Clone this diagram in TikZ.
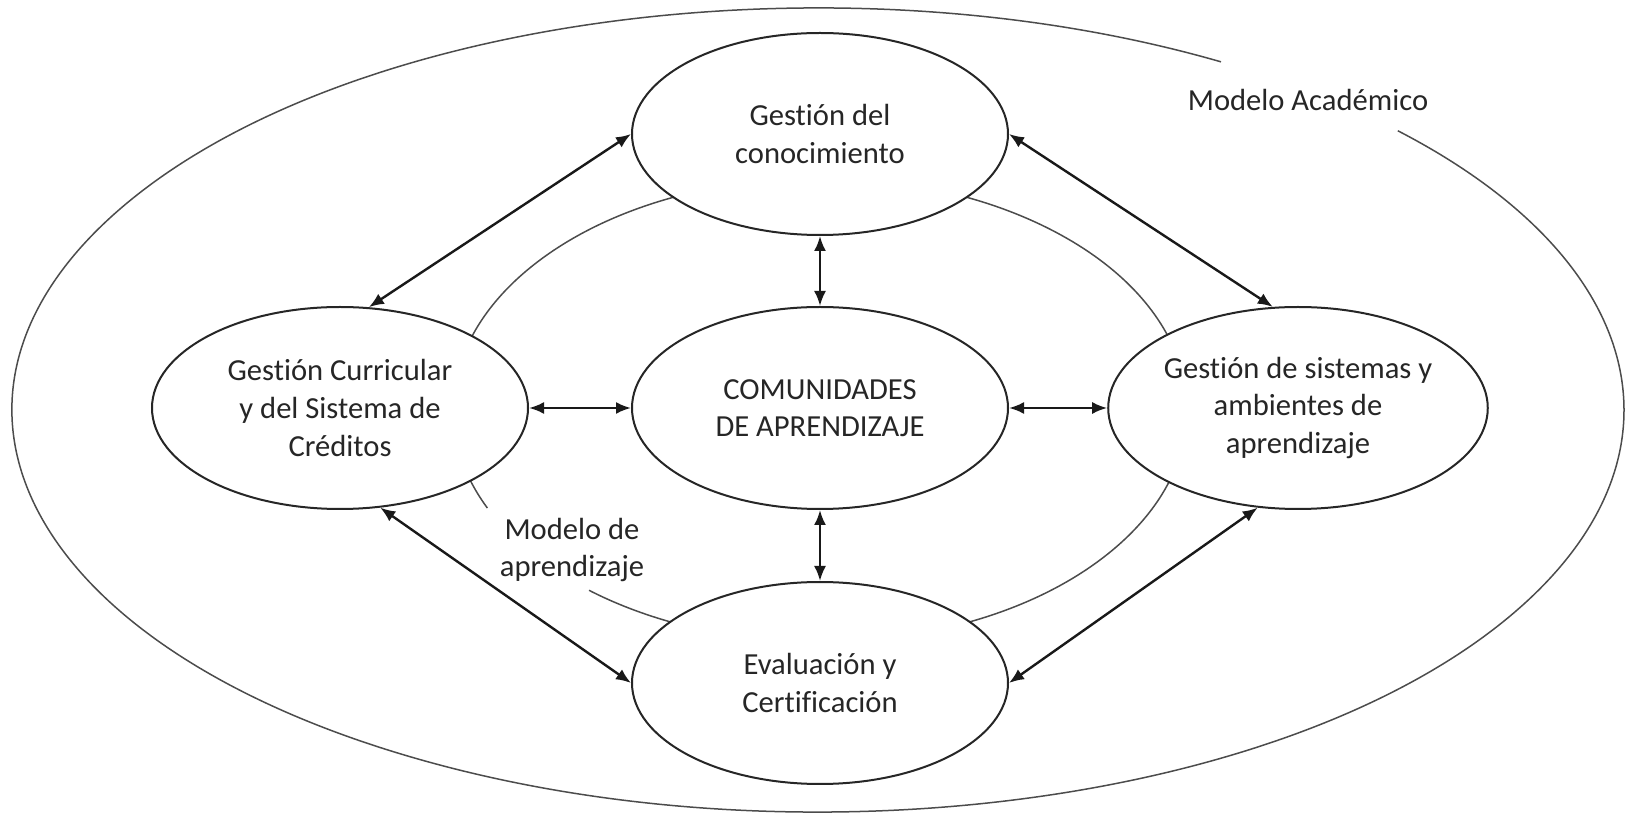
\documentclass[tikz,border=0pt]{standalone}
\usepackage{fontspec}
\setmainfont{Carlito}[Ligatures=NoCommon]
\usetikzlibrary{arrows.meta,shapes.geometric}
\begin{document}
\begin{tikzpicture}[x=0.5pt,y=0.5pt,
  box/.style={ellipse,draw=black!85,line width=1pt,fill=white,minimum width=188pt,minimum height=101pt,inner sep=0pt,align=center,text=black!85,font=\fontsize{15.3}{18.8}\selectfont},
  link/.style={{Latex[length=7.5pt,width=6pt]}-{Latex[length=7.5pt,width=6pt]},line width=1.2pt,draw=black!90},
  ring/.style={line width=0.75pt,draw=black!70},
  lbl/.style={align=center,text=black!85,font=\fontsize{15.3}{18.8}\selectfont}]
\useasboundingbox (0,0) rectangle (1630,815);
% outer ring (Modelo Academico)
\coordinate (oc) at (818,405);
\draw[ring] ([shift={(60:806 and 402)}]oc) arc[start angle=60,end angle=404,x radius=806,y radius=402];
% inner ring (Modelo de aprendizaje)
\coordinate (ic) at (820,405);
\draw[ring] ([shift={(231:367 and 232)}]ic) arc[start angle=231,end angle=565,x radius=367,y radius=232];
% nodes
\node[box] (top) at (820,681) {Gestión del\\conocimiento};
\node[box] (center) at (820,407) {COMUNIDADES\\DE APRENDIZAJE};
\node[box] (left) at (340,407) {Gestión Curricular\\y del Sistema de\\Créditos};
\node[box] (right) at (1298,407) {Gestión de sistemas y\\ambientes de\\aprendizaje};
\node[box] (bottom) at (820,132) {Evaluación y\\Certificación};
% labels
\node[lbl] (macad) at (1308,715) {Modelo Académico};
\node[lbl] (mapr) at (572,265) {Modelo de\\aprendizaje};
% connectors
\draw[link] (top.180) -- (left.74);
\draw[link] (top.0) -- (right.104);
\draw[link] (left.-68) -- (bottom.180);
\draw[link] (bottom.0) -- (right.-112);
\draw[link] (left.0) -- (center.180);
\draw[link] (center.0) -- (right.180);
\draw[link] (top.270) -- (center.90);
\draw[link] (center.270) -- (bottom.90);
\end{tikzpicture}
\end{document}
